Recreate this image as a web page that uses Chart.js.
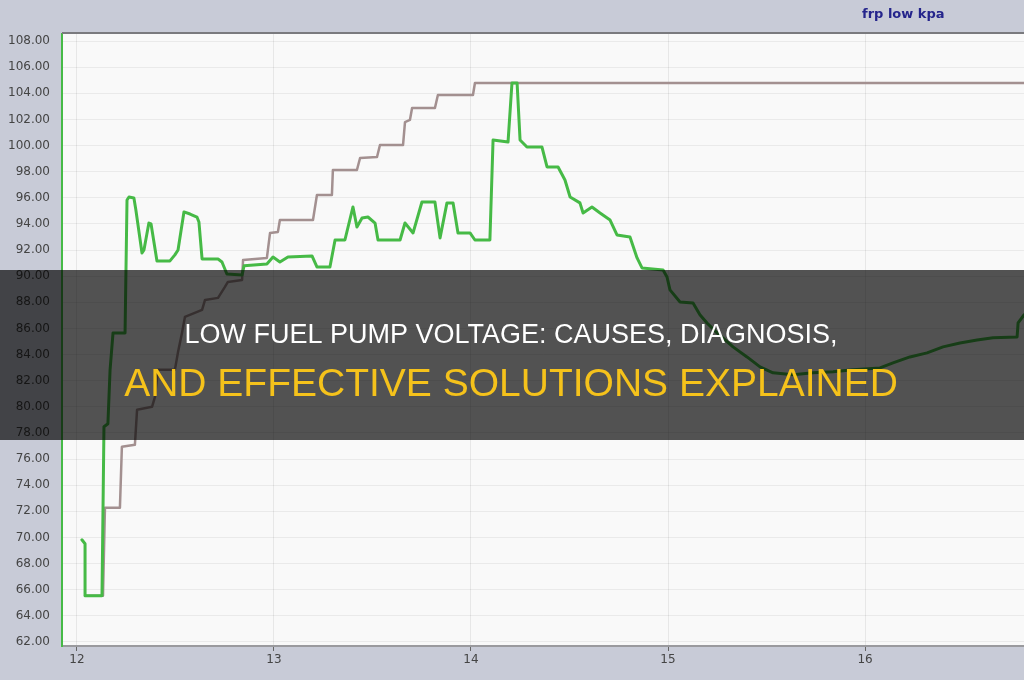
<!DOCTYPE html>
<html>
<head>
<meta charset="utf-8">
<script src="https://cdn.jsdelivr.net/npm/chart.js@4"></script>
<style>
  html, body { margin: 0; padding: 0; background: #c8cbd7; }
  #wrap { width: 1024px; height: 680px; position: relative; }
</style>
</head>
<body>
<div id="wrap"><canvas id="chartFrp" width="1024" height="680"></canvas></div>
<script>
// ── Data ───────────────────────────────────────────────────────────────────
const xTicks = [12, 13, 14, 15, 16];
const yTicks = [62, 64, 66, 68, 70, 72, 74, 76, 78, 80, 82, 84, 86, 88, 90, 92, 94, 96, 98, 100, 102, 104, 106, 108];

// green trace (actual pressure)
const greenX = [12.025, 12.041, 12.041, 12.127, 12.137, 12.157, 12.168, 12.183, 12.244, 12.254, 12.264, 12.289, 12.299, 12.330, 12.340, 12.365, 12.376, 12.406, 12.472, 12.497, 12.513, 12.543, 12.574, 12.609, 12.619, 12.635, 12.716, 12.736, 12.761, 12.838, 12.848, 12.964, 12.995, 13.030, 13.071, 13.193, 13.218, 13.284, 13.310, 13.360, 13.401, 13.421, 13.447, 13.477, 13.513, 13.528, 13.640, 13.665, 13.706, 13.751, 13.817, 13.843, 13.878, 13.909, 13.934, 13.995, 14.020, 14.096, 14.112, 14.188, 14.208, 14.234, 14.249, 14.284, 14.360, 14.386, 14.442, 14.477, 14.503, 14.553, 14.569, 14.614, 14.655, 14.706, 14.741, 14.807, 14.843, 14.868, 14.975, 14.995, 15.010, 15.061, 15.127, 15.162, 15.198, 15.249, 15.330, 15.401, 15.467, 15.533, 15.635, 15.736, 15.838, 15.939, 16.076, 16.142, 16.228, 16.315, 16.396, 16.482, 16.569, 16.650, 16.772, 16.777, 16.807];
const greenY = [69.82, 69.52, 65.54, 65.54, 78.47, 78.70, 82.83, 85.66, 85.66, 95.83, 96.06, 95.99, 95.07, 91.78, 92.01, 94.07, 94.00, 91.17, 91.17, 91.63, 92.01, 94.92, 94.76, 94.53, 94.15, 91.32, 91.32, 91.09, 90.17, 90.10, 90.79, 90.94, 91.47, 91.09, 91.47, 91.55, 90.71, 90.71, 92.77, 92.77, 95.30, 93.77, 94.46, 94.53, 94.07, 92.77, 92.77, 94.07, 93.31, 95.68, 95.68, 92.93, 95.61, 95.61, 93.31, 93.31, 92.77, 92.77, 100.43, 100.27, 104.79, 104.79, 100.43, 99.89, 99.89, 98.36, 98.36, 97.36, 96.06, 95.61, 94.84, 95.30, 94.84, 94.30, 93.16, 93.00, 91.40, 90.63, 90.48, 89.94, 88.95, 88.03, 87.95, 87.04, 86.42, 85.66, 84.59, 83.82, 83.06, 82.60, 82.45, 82.60, 82.68, 82.83, 82.98, 83.36, 83.82, 84.13, 84.59, 84.89, 85.12, 85.28, 85.35, 86.42, 87.04];

// brown trace (desired pressure)
const brownX = [12.041, 12.132, 12.142, 12.218, 12.228, 12.294, 12.305, 12.381, 12.396, 12.411, 12.497, 12.513, 12.533, 12.548, 12.635, 12.650, 12.716, 12.751, 12.766, 12.838, 12.843, 12.964, 12.980, 13.020, 13.030, 13.198, 13.218, 13.294, 13.299, 13.421, 13.437, 13.523, 13.538, 13.655, 13.665, 13.690, 13.701, 13.817, 13.832, 14.010, 14.020, 16.807];
const brownY = [65.54, 65.54, 72.27, 72.27, 76.94, 77.09, 79.77, 80.00, 80.76, 82.83, 82.83, 84.20, 85.66, 86.88, 87.42, 88.18, 88.34, 89.18, 89.56, 89.71, 91.24, 91.40, 93.31, 93.39, 94.30, 94.30, 96.22, 96.22, 98.13, 98.13, 99.05, 99.12, 100.04, 100.04, 101.80, 101.96, 102.87, 102.87, 103.87, 103.87, 104.79, 104.79];

const seriesLabel = 'frp low kpa';
const titleLine1 = 'LOW FUEL PUMP VOLTAGE: CAUSES, DIAGNOSIS,';
const titleLine2 = 'AND EFFECTIVE SOLUTIONS EXPLAINED';

// ── Decorations ────────────────────────────────────────────────────────────
const frame = {
    id: 'frame',
    beforeDraw(chart) {
        const { ctx, chartArea: a, width, height } = chart;
        ctx.save();
        ctx.fillStyle = '#c8cbd7';
        ctx.fillRect(0, 0, width, height);
        ctx.fillStyle = '#f9f9f9';
        ctx.fillRect(a.left, a.top, a.right - a.left, a.bottom - a.top);
        ctx.restore();
    },
    afterDraw(chart) {
        const { ctx, chartArea: a, width } = chart;
        ctx.save();
        // top border of the plot
        ctx.strokeStyle = '#7a7a7e';
        ctx.lineWidth = 2;
        ctx.beginPath();
        ctx.moveTo(a.left, a.top - 1);
        ctx.lineTo(a.right, a.top - 1);
        ctx.stroke();

        // series name top right
        ctx.fillStyle = '#25258c';
        ctx.font = 'bold 13px "DejaVu Sans"';
        ctx.textAlign = 'left';
        ctx.textBaseline = 'alphabetic';
        ctx.fillText(seriesLabel, 862, 18);

        // dark banner with headline
        ctx.fillStyle = 'rgba(0,0,0,0.67)';
        ctx.fillRect(0, 270, width, 170);
        ctx.textAlign = 'center';
        ctx.fillStyle = '#ffffff';
        ctx.font = '27px "Liberation Sans"';
        ctx.fillText(titleLine1, 511, 343);
        ctx.fillStyle = '#f5c21b';
        ctx.font = '39px "Liberation Sans"';
        ctx.fillText(titleLine2, 511, 396);
        ctx.restore();
    }
};

const toPoints = (xs, ys) => xs.map((x, i) => ({ x, y: ys[i] }));

new Chart(document.getElementById('chartFrp'), {
    type: 'line',
    data: {
        datasets: [
            { label: 'frp', data: toPoints(greenX, greenY), borderColor: '#46ba46', borderWidth: 3, order: 0 },
            { label: 'frp desired', data: toPoints(brownX, brownY), borderColor: '#a39090', borderWidth: 2.5, order: 1 }
        ]
    },
    options: {
        responsive: false, animation: false,
        layout: { padding: { top: 34, right: 0, left: 0, bottom: 0 } },
        elements: {
            line: { tension: 0, borderJoinStyle: 'round', borderCapStyle: 'round', fill: false },
            point: { radius: 0, hoverRadius: 0 }
        },
        plugins: { legend: { display: false }, tooltip: { enabled: false } },
        scales: {
            x: {
                type: 'linear', min: 11.924, max: 16.807,
                afterFit: s => { s.height = 34; },
                afterBuildTicks: s => { s.ticks = xTicks.map(v => ({ value: v })); },
                ticks: { color: '#444', font: { family: 'DejaVu Sans', size: 12 }, padding: 2, maxRotation: 0, autoSkip: false },
                grid: { color: 'rgba(0,0,0,0.07)', tickColor: '#666', tickLength: 5 },
                border: { color: '#9a9a9e', width: 2 }
            },
            y: {
                min: 61.69, max: 108.54,
                afterFit: s => { s.width = 62; },
                afterBuildTicks: s => { s.ticks = yTicks.map(v => ({ value: v })); },
                ticks: { color: '#444', font: { family: 'DejaVu Sans', size: 12 }, padding: 12, callback: v => v.toFixed(2) },
                grid: { color: 'rgba(0,0,0,0.06)', drawTicks: false },
                border: { color: '#46ba46', width: 2 }
            }
        }
    },
    plugins: [frame]
});
</script>
</body>
</html>
